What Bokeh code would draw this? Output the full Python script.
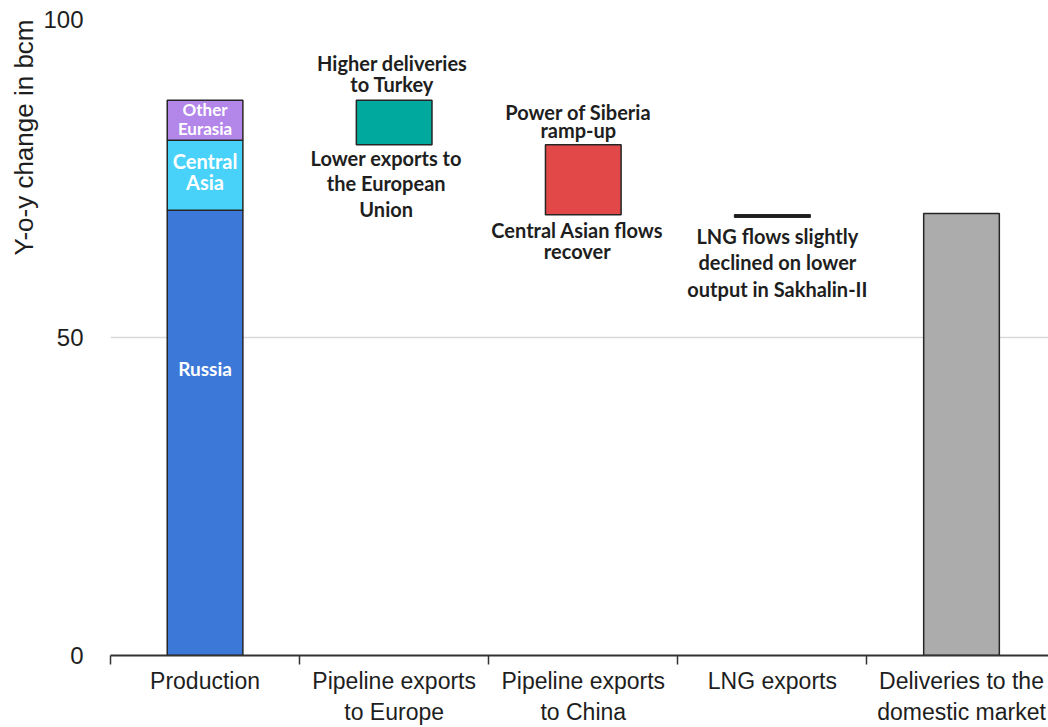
from bokeh.plotting import figure
from bokeh.models import FixedTicker, Range1d, Title, ColumnDataSource
from bokeh.core.properties import value
from bokeh.embed import file_html
from bokeh.resources import INLINE

# ---------------- data ----------------
categories = ["Production", "Pipeline exports\nto Europe", "Pipeline exports\nto China",
              "LNG exports", "Deliveries to the\ndomestic market"]
production_parts = ["Russia", "Central\nAsia", "Other\nEurasia"]
production_values = [70.0, 11.0, 6.3]
export_names = ["Pipeline exports to Europe", "Pipeline exports to China", "LNG exports"]
export_changes = [-7.0, -11.0, -0.4]
domestic_value = 69.5
y_ticks = [0, 50, 100]

notes_above = ["Higher deliveries\nto Turkey", "Power of Siberia\nramp-up", ""]
notes_below = ["Lower exports to\nthe European\nUnion", "Central Asian flows\nrecover",
               "LNG flows slightly\ndeclined on lower\noutput in Sakhalin-II"]

# ---------------- styles ----------------
part_colors = ["#3c78d8", "#48d2fa", "#b386ea"]
part_font_sizes = ["19px", "20px", "17px"]
part_label_frac = [0.645, 0.5, 0.5]
part_label_dy = [0, -4, -1]
part_line_h = [1.0, 0.85, 0.9]
export_colors = ["#00a99d", "#e24848", "#111111"]
domestic_color = "#acacac"
outline = "#262626"
BAR_W = 0.4
ANN_FONT = "Lato"
AXIS_FONT = "Liberation Sans"
TXT = "#1e1e1e"

n = len(categories)
centers = [i + 0.5 for i in range(n)]

p = figure(width=1048, height=727, x_range=Range1d(0, 4.96), y_range=Range1d(0, 100),
           output_backend="svg", toolbar_location=None,
           min_border_left=110, min_border_right=0, min_border_top=19, min_border_bottom=72)
p.outline_line_color = None
p.background_fill_color = "white"
p.border_fill_color = "white"

# grid
p.xgrid.visible = False
p.ygrid.grid_line_color = "#d9d9d9"
p.ygrid.grid_line_width = 1.5

# y axis
p.yaxis.ticker = FixedTicker(ticks=y_ticks)
p.yaxis.axis_line_color = None
p.yaxis.major_tick_line_color = None
p.yaxis.minor_tick_line_color = None
p.yaxis.major_label_standoff = 21
p.yaxis.major_label_text_font = AXIS_FONT
p.yaxis.major_label_text_font_size = "24px"
p.yaxis.major_label_text_color = TXT

p.add_layout(Title(text="Y-o-y change in bcm", align="right", text_font=AXIS_FONT,
                   text_font_size="26px", text_font_style="normal", text_color=TXT,
                   standoff=3), "left")

# x axis
p.xaxis.ticker = FixedTicker(ticks=centers, minor_ticks=list(range(n + 1)))
p.xaxis.major_label_overrides = {c: lab for c, lab in zip(centers, categories)}
p.xaxis.major_tick_line_color = None
p.xaxis.major_tick_out = 0
p.xaxis.major_tick_in = 0
p.xaxis.minor_tick_out = 9
p.xaxis.minor_tick_in = 0
p.xaxis.minor_tick_line_color = "#333333"
p.xaxis.minor_tick_line_width = 1.5
p.xaxis.axis_line_color = "#333333"
p.xaxis.axis_line_width = 2
p.xaxis.major_label_standoff = 3
p.xaxis.major_label_text_font = AXIS_FONT
p.xaxis.major_label_text_font_size = "23px"
p.xaxis.major_label_text_color = TXT
p.xaxis.major_label_orientation = "horizontal"

# production stack
bottoms, tops = [], []
acc = 0.0
for v in production_values:
    bottoms.append(acc)
    acc += v
    tops.append(acc)
total_production = acc
src_prod = ColumnDataSource(dict(x=[centers[0]] * len(production_values), bottom=bottoms,
                                 top=tops, color=part_colors))
p.vbar(x="x", width=BAR_W, bottom="bottom", top="top", fill_color="color",
       line_color=outline, line_width=1.5, source=src_prod)

for name, b, t, fs, fr, dy, lh in zip(production_parts, bottoms, tops, part_font_sizes,
                                      part_label_frac, part_label_dy, part_line_h):
    p.text(x=[centers[0]], y=[b + (t - b) * fr], text=[name], y_offset=dy,
           text_align="center", text_baseline="middle", text_font=value(ANN_FONT),
           text_font_style="bold", text_font_size=fs, text_color="white",
           text_line_height=lh)

# export waterfall boxes
e_bottom, e_top = [], []
level = total_production
for ch in export_changes:
    new = level + ch
    e_top.append(max(level, new))
    e_bottom.append(min(level, new))
    level = new
e_x = centers[1:1 + len(export_changes)]
src_exp = ColumnDataSource(dict(x=e_x, bottom=e_bottom, top=e_top, color=export_colors))
p.vbar(x="x", width=BAR_W, bottom="bottom", top="top", fill_color="color",
       line_color=outline, line_width=1.5, source=src_exp)

# domestic
p.vbar(x=[centers[-1]], width=BAR_W, bottom=[0], top=[domestic_value],
       fill_color=domestic_color, line_color=outline, line_width=1.5)

# annotations
above_off = [(-2, -4, 0.88), (-5, -3, 0.74), (0, 0, 1.0)]
below_off = [(-8, 1, 1.06), (-6, 3, 0.9), (5, 7, 1.09)]
for i in range(len(export_changes)):
    if notes_above[i]:
        xo, yo, lh = above_off[i]
        p.text(x=[e_x[i]], y=[e_top[i]], text=[notes_above[i]], x_offset=xo, y_offset=yo,
               text_align="center", text_baseline="bottom", text_font=value(ANN_FONT),
               text_font_style="bold", text_font_size="20px", text_color=TXT,
               text_line_height=lh)
    if notes_below[i]:
        xo, yo, lh = below_off[i]
        p.text(x=[e_x[i]], y=[e_bottom[i]], text=[notes_below[i]], x_offset=xo, y_offset=yo,
               text_align="center", text_baseline="top", text_font=value(ANN_FONT),
               text_font_style="bold", text_font_size="20px", text_color=TXT,
               text_line_height=lh)

open("out.html", "w").write(file_html(p, INLINE))
